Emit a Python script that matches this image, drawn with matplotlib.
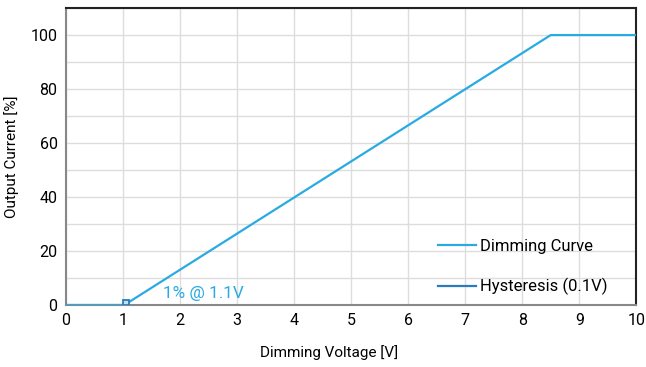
import matplotlib
matplotlib.use("Agg")
import matplotlib.pyplot as plt

plt.rcParams["font.family"] = ["Roboto", "DejaVu Sans"]

# Dimming curve data
volts = [0, 1.0, 1.1, 8.5, 10]
current = [0, 0, 1, 100, 100]

# Hysteresis window (0.1V)
hyst_v = [1.0, 1.1, 1.1, 1.0, 1.0]
hyst_i = [0, 0, 2, 2, 0]

curve_color = "#29abe2"
hyst_color = "#2b7bbf"

fig = plt.figure(figsize=(6.46, 3.67), dpi=100)
ax = fig.add_axes([0.102, 0.169, 0.883, 0.809])

ax.plot(volts, current, color=curve_color, lw=1.6, label="Dimming Curve", zorder=3)
ax.fill(hyst_v, hyst_i, facecolor="#bfe3f5", edgecolor=hyst_color, lw=1.3,
        zorder=4)
ax.plot([], [], color=hyst_color, lw=1.6, label="Hysteresis (0.1V)")

ax.text(1.7, 1.3, "1% @ 1.1V", color=curve_color, fontsize=12.3, va="bottom")

ax.set_xlim(0, 10)
ax.set_ylim(0, 110)
ax.set_xticks(range(0, 11))
ax.set_yticks(range(0, 101, 20))
ax.set_yticks(range(0, 111, 10), minor=True)
ax.grid(True, which="both", color="#dddddd", lw=1)
ax.set_axisbelow(True)
ax.tick_params(which="both", length=0, labelsize=11.5, pad=6)

ax.spines["left"].set_color("#888888")
ax.spines["bottom"].set_color("#888888")
ax.spines["top"].set_color("#222222")
ax.spines["right"].set_color("#222222")
for s in ax.spines.values():
    s.set_linewidth(1.5)

ax.set_xlabel("Dimming Voltage [V]", fontsize=11)
ax.xaxis.set_label_coords(0.461, -0.135)
ax.set_ylabel("Output Current [%]", fontsize=11, labelpad=8)

ax.legend(loc="lower right", bbox_to_anchor=(0.975, -0.018), frameon=False,
          fontsize=12, handlelength=2.3, handletextpad=0.2, labelspacing=1.45)

fig.savefig("out.png", dpi=100)
